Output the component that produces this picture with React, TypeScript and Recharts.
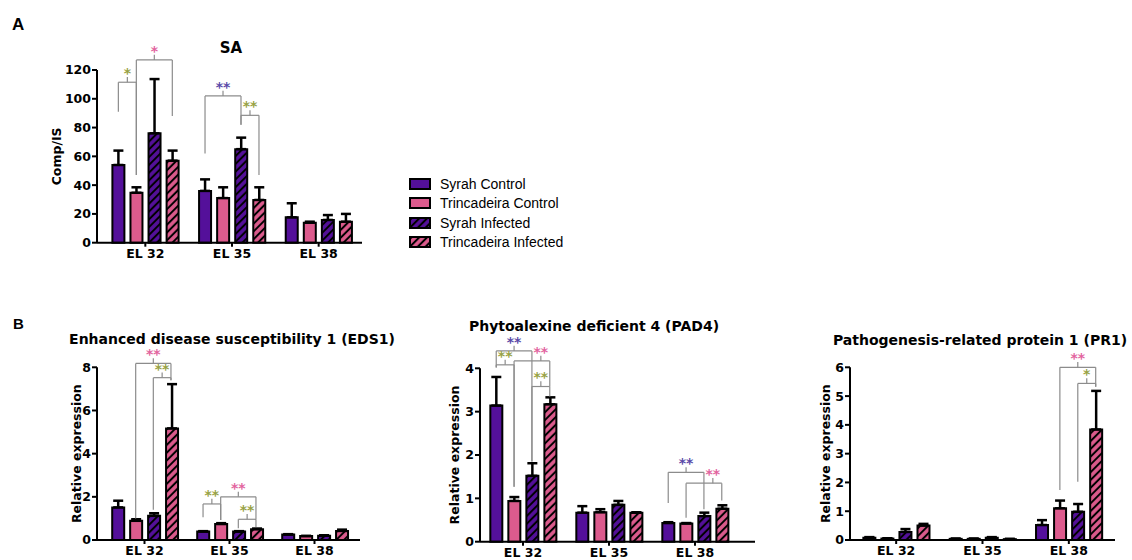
import React from 'react';
import { BarChart, Bar, XAxis, YAxis, ErrorBar, ReferenceLine, ReferenceDot } from 'recharts';

const STAGES = ['EL 32', 'EL 35', 'EL 38'];
const SERIES = ['Syrah Control', 'Trincadeira Control', 'Syrah Infected', 'Trincadeira Infected'];

// rows follow SERIES, columns follow STAGES
const SA_MEAN = [
  [54, 36, 17.6],
  [34.7, 31, 13.9],
  [76, 65, 15.8],
  [57, 29.7, 14.6],
];
const SA_ERR = [
  [10, 8, 9.8],
  [3.8, 7.5, 0.7],
  [37.7, 8, 3.4],
  [7, 8.8, 5.4],
];
const SA_TICKS = [0, 20, 40, 60, 80, 100, 120];

const EDS1_MEAN = [
  [1.51, 0.39, 0.25],
  [0.89, 0.74, 0.18],
  [1.12, 0.39, 0.2],
  [5.17, 0.5, 0.42],
];
const EDS1_ERR = [
  [0.31, 0.02, 0.02],
  [0.07, 0.04, 0.01],
  [0.12, 0.02, 0.02],
  [2.05, 0.03, 0.06],
];
const EDS1_TICKS = [0, 2, 4, 6, 8];

const PAD4_MEAN = [
  [3.14, 0.67, 0.43],
  [0.94, 0.68, 0.42],
  [1.52, 0.85, 0.59],
  [3.17, 0.67, 0.76],
];
const PAD4_ERR = [
  [0.66, 0.15, 0.02],
  [0.09, 0.07, 0.01],
  [0.29, 0.09, 0.08],
  [0.16, 0.01, 0.08],
];
const PAD4_TICKS = [0, 1, 2, 3, 4];

const PR1_MEAN = [
  [0.08, 0.04, 0.52],
  [0.05, 0.04, 1.1],
  [0.28, 0.08, 0.98],
  [0.5, 0.03, 3.84],
];
const PR1_ERR = [
  [0.02, 0.01, 0.17],
  [0.01, 0.01, 0.27],
  [0.1, 0.02, 0.27],
  [0.06, 0.01, 1.34],
];
const PR1_TICKS = [0, 1, 2, 3, 4, 5, 6];

// significance brackets: [stage, series a, series b, bracket y, leg a bottom, leg b bottom, mark, tick at series]
type Sig = [number, number, number, number, number, number, string, number?];

const SA_SIG: Sig[] = [
  [0, 0, 1, 111.5, 91, 47, '*'],
  [0, 1, 3, 127, 47, 88, '*'],
  [1, 0, 2, 102, 62, 82, '**'],
  [1, 2, 3, 88.5, 82, 47, '**'],
];
const EDS1_SIG: Sig[] = [
  [0, 1, 3, 8.18, 1.0, 7.4, '**'],
  [0, 2, 3, 7.52, 1.4, 7.4, '**'],
  [1, 0, 1, 1.67, 1.05, 0.93, '**'],
  [1, 1, 3, 2.0, 0.93, 0.96, '**'],
  [1, 2, 3, 0.96, 0.54, 0.6, '**'],
];
const PAD4_SIG: Sig[] = [
  [0, 0, 2, 4.4, 4.02, 1.85, '**'],
  [0, 0, 1, 4.08, 4.02, 1.27, '**'],
  [0, 1, 3, 4.17, 1.27, 3.58, '**', 2.5],
  [0, 2, 3, 3.58, 1.85, 3.35, '**'],
  [2, 0, 2, 1.6, 0.89, 0.75, '**'],
  [2, 1, 3, 1.35, 0.55, 0.95, '**', 2.5],
];
const PR1_SIG: Sig[] = [
  [2, 1, 3, 6.0, 1.74, 5.32, '**'],
  [2, 2, 3, 5.44, 2.02, 5.32, '*'],
];

const PURPLE = '#54109a';
const PINK = '#dc5b8d';
const LINE = '#8c8c8c';
const OLIVE = '#98a244';
const BLUE = '#5a4aa8';
const PINK_MARK = '#e2649e';
const FILLS = [PURPLE, PINK, 'url(#hatch-syrah)', 'url(#hatch-trinc)'];

const CAT_GAP = 0.12;
const BAR_GAP = 0.07;
const BAR_W = (1 - 2 * CAT_GAP - 3 * BAR_GAP) / 4;
// centre of a bar on the hidden number axis, where stage i spans [i, i + 1]
const slot = (g: number, s: number) => g + CAT_GAP + s * (BAR_W + BAR_GAP) + BAR_W / 2;
const markColor = (a: number, b: number) => (b - a === 2 ? (a === 0 ? BLUE : PINK_MARK) : OLIVE);

const XH = 20;
const TEXT = { fill: '#000', fontSize: 12.5, fontWeight: 700 };
const AXIS = { stroke: '#000', strokeWidth: 2 };

type PanelProps = {
  box: [number, number, number, number];
  axisX: number;
  yTop: number;
  yBottom: number;
  xEnd: number;
  pad: [number, number];
  max: number;
  ticks: number[];
  mean: number[][];
  err: number[][];
  sig: Sig[];
  ylabel: string;
  labelX: number;
};

function Panel(p: PanelProps) {
  const [L, T, W, H] = p.box;
  const data = STAGES.map((stage, i) => {
    const row: any = { stage, span: [i, i + 1] };
    SERIES.forEach((_, s) => {
      row['v' + s] = p.mean[s][i];
      row['e' + s] = [0, p.err[s][i]];
    });
    return row;
  });
  const margin = { top: p.yTop - T, right: L + W - p.xEnd, bottom: T + H - p.yBottom - XH, left: 0 };
  const tickLen = p.max * 0.03;
  const lift = p.max * 0.052;

  const seg = (k: string, x1: number, y1: number, x2: number, y2: number) => (
    <ReferenceLine key={k} xAxisId="num" segment={[{ x: x1, y: y1 }, { x: x2, y: y2 }]}
      stroke={LINE} strokeWidth={1.2} ifOverflow="visible" />
  );

  const marks = p.sig.flatMap(([g, a, b, top, lowA, lowB, mark, mid], i) => {
    const xa = slot(g, a);
    const xb = slot(g, b);
    const xm = mid === undefined ? (xa + xb) / 2 : slot(g, mid);
    return [
      seg(i + 'a', xa, lowA, xa, top),
      seg(i + 'b', xb, lowB, xb, top),
      seg(i + 'h', xa, top, xb, top),
      seg(i + 't', xm, top, xm, top + tickLen),
      <ReferenceDot key={i + 's'} xAxisId="num" x={xm} y={top + lift} r={0} fill="none" stroke="none"
        ifOverflow="visible"
        label={{ value: mark, position: 'center', fill: markColor(a, b), fontSize: 14, fontWeight: 700 }} />,
    ];
  });

  return (
    <div style={{ position: 'absolute', left: L, top: T }}>
      <BarChart width={W} height={H} data={data} margin={margin} barCategoryGap="12%" barGap="7%">
        <XAxis xAxisId="cat" dataKey="stage" height={XH} interval={0} padding={{ left: p.pad[0], right: p.pad[1] }}
          tickSize={4} tickMargin={2} axisLine={AXIS} tickLine={AXIS} tick={TEXT} />
        <XAxis xAxisId="num" dataKey="span" type="number" domain={[0, STAGES.length]} allowDataOverflow hide
          padding={{ left: p.pad[0], right: p.pad[1] }} />
        <YAxis width={p.axisX - L} domain={[0, p.max]} ticks={p.ticks} interval={0} tickSize={5} tickMargin={1}
          axisLine={AXIS} tickLine={AXIS} tick={TEXT}
          label={{ value: p.ylabel, angle: -90, position: 'insideLeft', offset: p.labelX - L,
            style: { textAnchor: 'middle' }, fill: '#000', fontSize: 12.5, fontWeight: 700 }} />
        {SERIES.map((name, s) => (
          <Bar key={name} xAxisId="cat" dataKey={'v' + s} name={name} fill={FILLS[s]} stroke="#000"
            strokeWidth={2} isAnimationActive={false}>
            <ErrorBar dataKey={'e' + s} width={5} stroke="#000" strokeWidth={2.5} />
          </Bar>
        ))}
        {marks}
      </BarChart>
    </div>
  );
}

const TITLES: [string, number, number, number][] = [
  ['SA', 231, 40.8, 15],
  ['Enhanced disease susceptibility 1 (EDS1)', 232, 332, 14],
  ['Phytoalexine deficient 4 (PAD4)', 594, 318.6, 14],
  ['Pathogenesis-related protein 1 (PR1)', 980, 333, 14],
];

export default function App() {
  return (
    <div style={{ position: 'relative', width: 1132, height: 560, overflow: 'hidden', background: '#fff',
      fontFamily: '"DejaVu Sans", sans-serif' }}>
      <style>{'body{margin:0}'}</style>
      <svg width={0} height={0} style={{ position: 'absolute' }}>
        <defs>
          <pattern id="hatch-syrah" patternUnits="userSpaceOnUse" width={5.5} height={5.5} patternTransform="rotate(45)">
            <rect width={5.5} height={5.5} fill={PURPLE} />
            <line x1={2.75} y1={0} x2={2.75} y2={5.5} stroke="#000" strokeWidth={2} />
          </pattern>
          <pattern id="hatch-trinc" patternUnits="userSpaceOnUse" width={5.5} height={5.5} patternTransform="rotate(45)">
            <rect width={5.5} height={5.5} fill={PINK} />
            <line x1={2.75} y1={0} x2={2.75} y2={5.5} stroke="#000" strokeWidth={2} />
          </pattern>
        </defs>
      </svg>

      <div style={{ position: 'absolute', left: 12, top: 15.8, fontFamily: '"Liberation Sans", Arial, sans-serif',
        fontWeight: 700, fontSize: 17, lineHeight: '17px' }}>A</div>
      <div style={{ position: 'absolute', left: 13, top: 316, fontFamily: '"Liberation Sans", Arial, sans-serif',
        fontWeight: 700, fontSize: 15, lineHeight: '15px' }}>B</div>

      {TITLES.map(([t, cx, top, fs]) => (
        <div key={t} style={{ position: 'absolute', left: cx - 200, width: 400, top, textAlign: 'center',
          fontWeight: 700, fontSize: fs, lineHeight: fs + 'px', whiteSpace: 'nowrap' }}>{t}</div>
      ))}

      <Panel box={[0, 30, 385, 250]} axisX={97} yTop={70} yBottom={242.7} xEnd={362} pad={[5, 0]}
        max={120} ticks={SA_TICKS} mean={SA_MEAN} err={SA_ERR} sig={SA_SIG} ylabel="Comp/IS" labelX={57} />
      <Panel box={[0, 320, 390, 240]} axisX={97} yTop={367.3} yBottom={540} xEnd={360} pad={[5, 3]}
        max={8} ticks={EDS1_TICKS} mean={EDS1_MEAN} err={EDS1_ERR} sig={EDS1_SIG} ylabel="Relative expression" labelX={77} />
      <Panel box={[400, 320, 370, 242]} axisX={480} yTop={368.3} yBottom={541.7} xEnd={755} pad={[0, 17]}
        max={4} ticks={PAD4_TICKS} mean={PAD4_MEAN} err={PAD4_ERR} sig={PAD4_SIG} ylabel="Relative expression" labelX={455} />
      <Panel box={[780, 320, 352, 240]} axisX={850} yTop={367.3} yBottom={540} xEnd={1115} pad={[3, 3]}
        max={6} ticks={PR1_TICKS} mean={PR1_MEAN} err={PR1_ERR} sig={PR1_SIG} ylabel="Relative expression" labelX={826} />

      <div style={{ position: 'absolute', left: 409, top: 174.3, fontFamily: '"Liberation Sans", Arial, sans-serif',
        fontSize: 14 }}>
        {SERIES.map((name, s) => (
          <div key={name} style={{ display: 'flex', alignItems: 'center', height: 19.3 }}>
            <svg width={22} height={12} style={{ marginRight: 9 }}>
              <rect x={1} y={1} width={20} height={10} fill={FILLS[s]} stroke="#000" strokeWidth={2} />
            </svg>
            <span>{name}</span>
          </div>
        ))}
      </div>
    </div>
  );
}
